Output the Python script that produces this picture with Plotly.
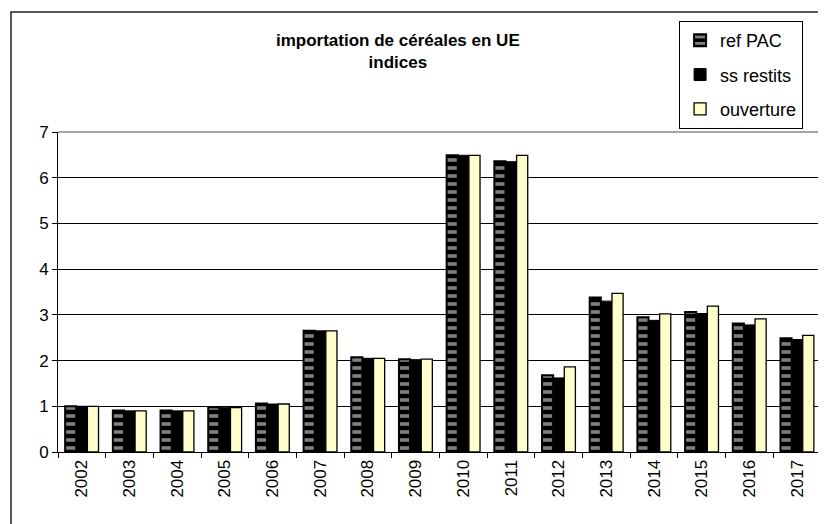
import plotly.graph_objects as go

years = ["2002", "2003", "2004", "2005", "2006", "2007", "2008", "2009",
         "2010", "2011", "2012", "2013", "2014", "2015", "2016", "2017"]
ref_pac = [1.00, 0.91, 0.91, 0.98, 1.06, 2.65, 2.07, 2.03,
           6.49, 6.36, 1.68, 3.38, 2.95, 3.06, 2.81, 2.49]
ss_restits = [1.00, 0.90, 0.90, 0.97, 1.05, 2.65, 2.05, 2.02,
              6.49, 6.35, 1.62, 3.30, 2.88, 3.03, 2.78, 2.46]
ouverture = [1.00, 0.90, 0.90, 0.97, 1.05, 2.65, 2.05, 2.03,
             6.49, 6.49, 1.86, 3.47, 3.02, 3.19, 2.91, 2.55]

FONT = "Arial, Liberation Sans, sans-serif"

fig = go.Figure()
fig.add_trace(go.Bar(
    x=years, y=ref_pac, name="ref PAC", legendgroup="a",
    marker=dict(color="black",
                pattern=dict(shape="-", fgcolor="white", bgcolor="black",
                             size=8, solidity=0.45, fillmode="overlay"),
                line=dict(color="black", width=2)),
))
fig.add_trace(go.Bar(
    x=years, y=ss_restits, name="ss restits", legendgroup="b",
    marker=dict(color="black", line=dict(color="black", width=1)),
))
fig.add_trace(go.Bar(
    x=years, y=ouverture, name="ouverture", legendgroup="c",
    marker=dict(color="#FFFFCC", line=dict(color="black", width=1.3)),
))

# outer frame of the chart area and plot-area top/right border
fig.add_shape(type="rect", xref="paper", yref="paper",
              x0=-0.0616, x1=1.04, y0=-0.35, y1=1.375,
              line=dict(color="#222222", width=1.5), fillcolor="rgba(0,0,0,0)",
              layer="below")
fig.add_shape(type="line", xref="paper", yref="paper", x0=0, x1=1, y0=1, y1=1,
              line=dict(color="#888888", width=1.5))
fig.add_shape(type="line", xref="paper", yref="paper", x0=1, x1=1, y0=0, y1=1,
              line=dict(color="#888888", width=1.5))

fig.update_layout(
    width=826, height=524,
    margin=dict(l=50, r=13, t=124, b=80),
    paper_bgcolor="white", plot_bgcolor="white",
    font=dict(family=FONT, color="black", size=17),
    barmode="group", bargap=0.3, bargroupgap=0,
    title=dict(text="<b>importation de céréales en UE<br>indices</b>",
               x=0.472, xanchor="center", y=0.927, yanchor="top",
               font=dict(size=17, family=FONT, color="black")),
    legend=dict(x=0.814, y=1.347, xanchor="left", yanchor="top",
                bordercolor="black", borderwidth=1, bgcolor="white",
                traceorder="grouped", tracegroupgap=8,
                font=dict(size=18, family=FONT),
                itemwidth=30),
    showlegend=True,
)
fig.update_xaxes(
    type="category", showline=True, linecolor="black", linewidth=1,
    ticks="outside", ticklen=5, tickcolor="black", tickson="boundaries",
    tickangle=-90, tickfont=dict(size=17, family=FONT),
    showgrid=False, automargin=False,
)
fig.update_yaxes(
    range=[0, 7], tickvals=[0, 1, 2, 3, 4, 5, 6, 7],
    showline=True, linecolor="black", linewidth=1,
    ticks="outside", ticklen=5, tickcolor="black",
    showgrid=True, gridcolor="black", gridwidth=1,
    tickfont=dict(size=17, family=FONT), zeroline=False, automargin=False,
)

fig.write_html("out.html")
